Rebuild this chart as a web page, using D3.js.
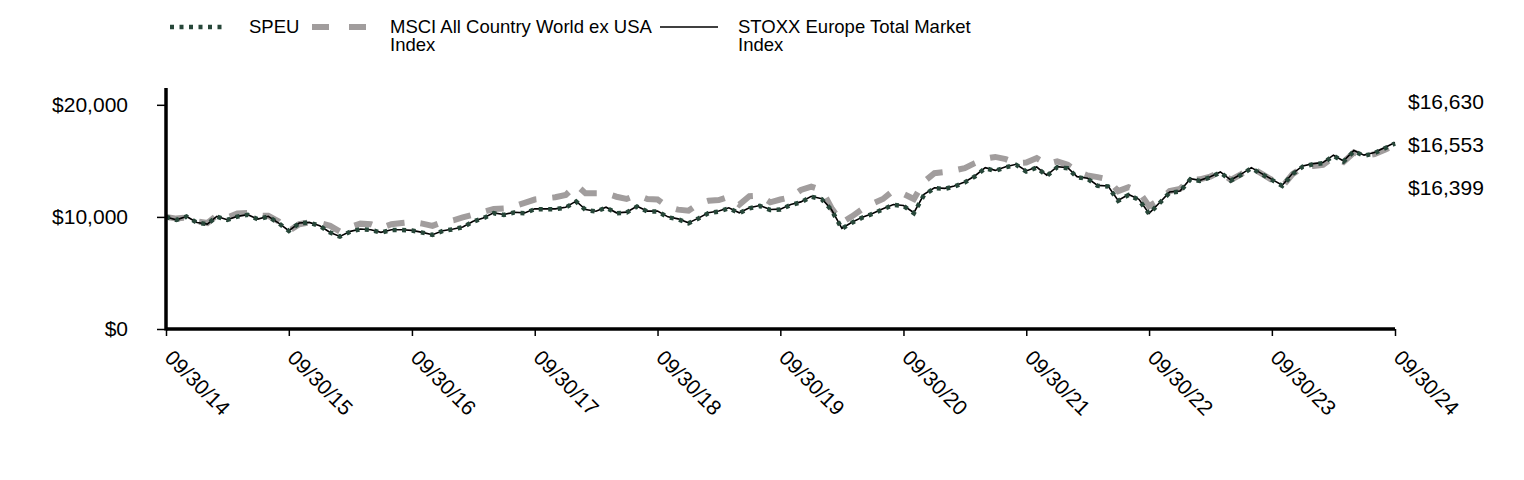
<!DOCTYPE html>
<html>
<head>
<meta charset="utf-8">
<script src="https://cdn.jsdelivr.net/npm/d3@7"></script>
<style>
  html, body { margin: 0; padding: 0; background: #fff; }
  svg { display: block; font-family: Arial, "Liberation Sans", sans-serif; }
</style>
</head>
<body>
<svg id="chart" width="1524" height="480"></svg>
<script>
// ---------- DATA ----------
const startYear = 2014, startMonth = 8; // September 2014 (0-based month)
const seriesNames = ["SPEU", "MSCI All Country World ex USA Index", "STOXX Europe Total Market Index"];

const speu = [
  10000, 9730, 10030, 9490, 9350, 10030, 9730, 10030, 10180, 9790, 10030, 9435,
  8750, 9435, 9490, 9200, 8600, 8240, 8690, 8900, 8840, 8600, 8840, 8840,
  8780, 8600, 8390, 8750, 8900, 9080, 9580, 9880, 10330, 10180, 10390, 10330,
  10690, 10690, 10690, 10830, 11370, 10620, 10480, 10830, 10330, 10390, 10920, 10480,
  10480, 9970, 9790, 9435, 9880, 10330, 10480, 10770, 10330, 10770, 10980, 10620,
  10650, 11070, 11300, 11800, 11580, 10620, 8950, 9490, 9940, 10270, 10680, 11070,
  10980, 10330, 11960, 12560, 12500, 12710, 13070, 13600, 14340, 14100, 14430, 14640,
  14050, 14400, 13660, 14430, 14340, 13540, 13400, 12770, 12710, 11430, 11960, 11520,
  10270, 11220, 12170, 12260, 13360, 13210, 13540, 13960, 13240, 13750, 14340, 13810,
  13300, 12770, 13810, 14490, 14700, 14790, 15450, 14940, 15860, 15450, 15680, 16130,
  16553
];

const msci = [
  10000, 9850, 9950, 9600, 9450, 10150, 9950, 10300, 10350, 10100, 10100, 9600,
  8750, 9350, 9500, 9450, 9200, 8700, 9100, 9400, 9350, 9000, 9350, 9450,
  9550, 9400, 9200, 9550, 9700, 9950, 10200, 10450, 10700, 10750, 10950, 11250,
  11550, 11650, 11750, 11950, 12850, 12100, 12100, 12100, 11800, 11600, 11950, 11600,
  11550, 10900, 10650, 10550, 11200, 11450, 11500, 11800, 11100, 11850, 11900, 11300,
  11550, 11750, 12400, 12700, 12400, 10800, 9500, 10050, 10700, 11200, 11600, 12350,
  12050, 11600, 13150, 13900, 14000, 14150, 14350, 14800, 15200, 15350, 15150, 14800,
  14850, 15250, 14700, 14950, 14650, 14050, 13700, 13550, 13350, 12300, 12650, 12250,
  10950, 11520, 12300, 12500, 13300, 13350, 13600, 14000, 13300, 13800, 14400, 13850,
  13300, 12700, 13800, 14450, 14550, 14650, 15300, 14900, 15750, 15400, 15600, 16000,
  16399
];

const stoxx = [
  10000, 9735, 10040, 9500, 9360, 10045, 9745, 10045, 10200, 9805, 10050, 9450,
  8765, 9450, 9510, 9215, 8615, 8255, 8710, 8920, 8860, 8620, 8860, 8860,
  8800, 8620, 8410, 8770, 8925, 9100, 9605, 9905, 10360, 10210, 10420, 10360,
  10720, 10720, 10720, 10865, 11405, 10655, 10510, 10865, 10365, 10425, 10955, 10515,
  10515, 10005, 9825, 9470, 9915, 10365, 10520, 10810, 10370, 10810, 11020, 10660,
  10690, 11110, 11340, 11840, 11620, 10660, 8985, 9525, 9980, 10310, 10720, 11110,
  11020, 10370, 12005, 12605, 12545, 12755, 13115, 13650, 14390, 14150, 14480, 14690,
  14100, 14450, 13710, 14480, 14390, 13590, 13450, 12815, 12755, 11470, 12005, 11565,
  10310, 11265, 12215, 12305, 13410, 13260, 13590, 14010, 13290, 13800, 14395, 13860,
  13350, 12820, 13865, 14545, 14755, 14845, 15505, 14995, 15920, 15510, 15740, 16195,
  16630
];

const yTicks = [0, 10000, 20000];
const endLabels = ["$16,630", "$16,553", "$16,399"];

// ---------- LAYOUT ----------
const svg = d3.select("#chart");
const X0 = 166, X1 = 1395, Y0 = 329, YTOP = 88;
const FONT = "Arial, 'Liberation Sans', sans-serif";

const dates = d3.range(speu.length).map(i => new Date(startYear, startMonth + i + 1, 0));
const x = d3.scaleTime().domain([dates[0], dates[dates.length - 1]]).range([X0, X1]);
const y = d3.scaleLinear().domain([0, 21500]).range([Y0, YTOP]);

const line = d3.line().x((d, i) => x(dates[i])).y(d => y(d));

// series lines
svg.append("path").datum(msci).attr("d", line)
  .attr("fill", "none").attr("stroke", "#a19d9d").attr("stroke-width", 6)
  .attr("stroke-dasharray", "18,16");
svg.append("path").datum(stoxx).attr("d", line)
  .attr("fill", "none").attr("stroke", "#000").attr("stroke-width", 1.6);
svg.append("path").datum(speu).attr("d", line)
  .attr("fill", "none").attr("stroke", "#274739").attr("stroke-width", 4.5)
  .attr("stroke-dasharray", "4,5.5");

// y axis
const yAxis = d3.axisLeft(y).tickValues(yTicks).tickSize(9).tickPadding(29)
  .tickFormat(d => "$" + d3.format(",")(d));
const gy = svg.append("g").attr("transform", `translate(${X0},0)`).call(yAxis);
gy.select(".domain").remove();
gy.selectAll(".tick line").attr("stroke", "#000").attr("stroke-width", 1.5);
gy.selectAll(".tick text").attr("font-size", 21).attr("fill", "#000")
  .attr("font-family", FONT);
svg.append("line").attr("x1", X0).attr("x2", X0).attr("y1", YTOP).attr("y2", Y0 + 1.5)
  .attr("stroke", "#000").attr("stroke-width", 3.5);

// x axis
const xTickDates = dates.filter((d, i) => i % 12 === 0);
const xAxis = d3.axisBottom(x).tickValues(xTickDates).tickSize(7)
  .tickFormat(d3.timeFormat("%m/%d/%y"));
const gx = svg.append("g").attr("transform", `translate(0,${Y0})`).call(xAxis);
gx.select(".domain").remove();
gx.selectAll(".tick line").attr("stroke", "#000").attr("stroke-width", 1.5);
gx.selectAll(".tick text")
  .attr("font-size", 21).attr("fill", "#000")
  .attr("font-family", FONT)
  .attr("text-anchor", "start")
  .attr("y", 0).attr("dy", 0)
  .attr("transform", "translate(-3,30) rotate(45)");
svg.append("line").attr("x1", X0).attr("x2", X1).attr("y1", Y0).attr("y2", Y0)
  .attr("stroke", "#000").attr("stroke-width", 3.5);

// end labels
svg.selectAll("text.endlab").data(endLabels).enter().append("text")
  .attr("class", "endlab")
  .attr("x", 1408).attr("y", (d, i) => 102 + i * 43)
  .attr("dy", "0.35em").attr("font-size", 21).attr("fill", "#000")
  .attr("font-family", FONT)
  .text(d => d);

// legend
const legend = svg.append("g").attr("font-size", 18.5).attr("fill", "#000").attr("font-family", FONT);
const legItems = [
  {x1: 170, x2: 226, tx: 249, lines: ["SPEU"], stroke: "#274739", w: 4.5, dash: "4,5.5"},
  {x1: 312, x2: 368, tx: 390, lines: ["MSCI All Country World ex USA", "Index"], stroke: "#a19d9d", w: 6, dash: "17,20"},
  {x1: 660, x2: 718, tx: 738, lines: ["STOXX Europe Total Market", "Index"], stroke: "#000", w: 1.6, dash: null}
];
legItems.forEach((it, k) => {
  legend.append("line").attr("x1", it.x1).attr("x2", it.x2).attr("y1", 27).attr("y2", 27)
    .attr("stroke", it.stroke).attr("stroke-width", it.w)
    .attr("stroke-dasharray", it.dash);
  const t = legend.append("text").attr("x", it.tx).attr("y", 33);
  it.lines.forEach((s, j) => {
    t.append("tspan").attr("x", it.tx).attr("dy", j === 0 ? 0 : 18).text(s);
  });
});
</script>
</body>
</html>
